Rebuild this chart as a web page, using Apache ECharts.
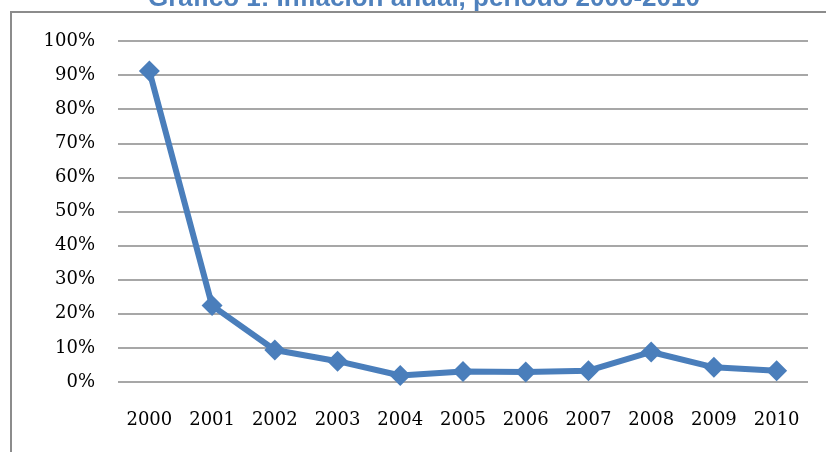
<!DOCTYPE html>
<html>
<head>
<meta charset="utf-8">
<script src="https://cdn.jsdelivr.net/npm/echarts@6/dist/echarts.min.js"></script>
<style>html,body{margin:0;padding:0;background:#fff}#c{width:826px;height:452px}</style>
</head>
<body>
<div id="c"></div>
<script>
const titleText = 'Gráfico 1: Inflación anual, período 2000-2010';
const years = ['2000','2001','2002','2003','2004','2005','2006','2007','2008','2009','2010'];
const inflation = [0.912, 0.224, 0.094, 0.061, 0.019, 0.031, 0.029, 0.033, 0.088, 0.043, 0.033];

const chart = echarts.init(document.getElementById('c'));
chart.setOption({
  animation: false,
  backgroundColor: '#ffffff',
  title: {
    text: titleText,
    left: 143,
    top: -19,
    textStyle: { fontFamily: 'Liberation Sans', fontWeight: 'bold', fontSize: 26, color: '#4F81BD' }
  },
  graphic: [{
    type: 'polyline',
    shape: { points: [[11, 460], [11, 12], [830, 12]] },
    style: { stroke: '#8c8c8c', lineWidth: 2, fill: null },
    z: 100
  }],
  grid: { left: 118, right: 18, top: 41, bottom: 70 },
  xAxis: {
    type: 'category',
    data: years,
    boundaryGap: true,
    axisLine: { show: false },
    axisTick: { show: false },
    axisLabel: { margin: 29, fontFamily: 'DejaVu Serif', fontSize: 18, color: '#000' }
  },
  yAxis: {
    type: 'value',
    min: 0, max: 1, interval: 0.1,
    axisLine: { show: false },
    axisTick: { show: false },
    axisLabel: {
      margin: 23, fontFamily: 'DejaVu Serif', fontSize: 18, color: '#000',
      formatter: v => Math.round(v * 100) + '%'
    },
    splitLine: { lineStyle: { color: '#8a8a8a', width: 1.5 } }
  },
  series: [{
    type: 'line',
    data: inflation,
    symbol: 'diamond',
    symbolSize: 21,
    itemStyle: { color: '#4A7EBB' },
    lineStyle: { color: '#4A7EBB', width: 6 }
  }]
});
</script>
</body>
</html>
